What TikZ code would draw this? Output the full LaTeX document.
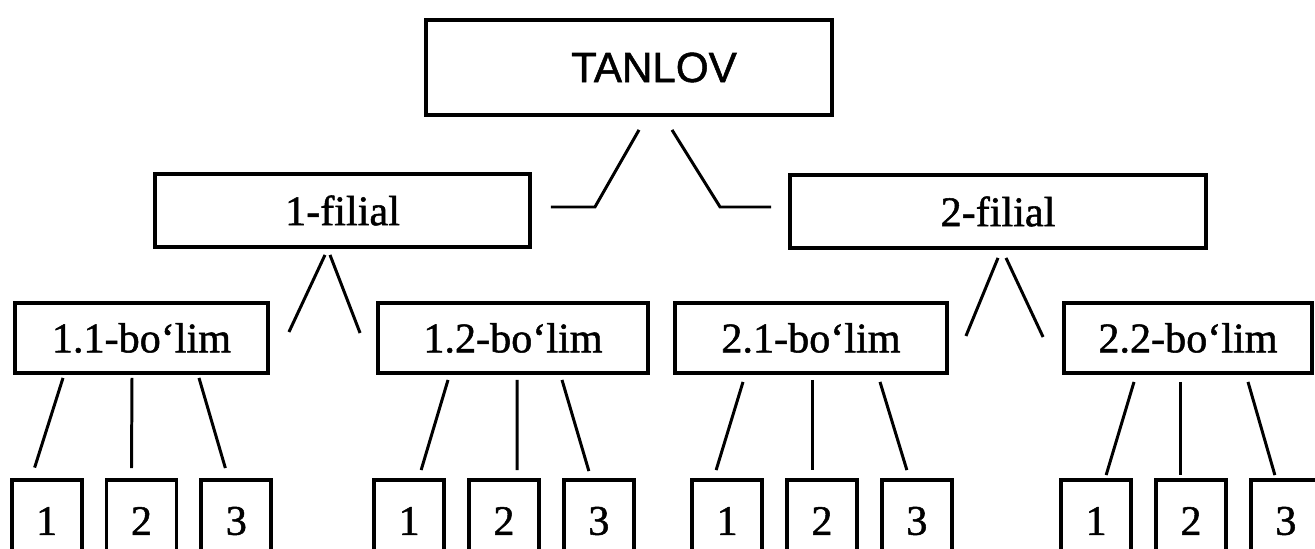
\documentclass[tikz,border=0pt]{standalone}
\usepackage{fontspec}
\setmainfont[FakeBold=1.2]{Liberation Serif}
\newfontfamily\tanlovfont[FakeBold=1.2]{Liberation Sans}
\usetikzlibrary{positioning,calc}

\begin{document}
\begin{tikzpicture}[
    box/.style={draw, line width=2.2pt, inner sep=0pt, font=\fontsize{24}{28}\selectfont},
    raqam/.style={box, minimum width=1.40cm, minimum height=1.64cm},
    link/.style={line width=1.7pt}
]
    \useasboundingbox (0,0) rectangle (26.3,-10.98);
    \clip (0,0) rectangle (26.3,-10.98);

    \node[box, minimum width=8.12cm, minimum height=1.90cm, font=\tanlovfont\fontsize{24}{28}\selectfont] (t) at (12.58,-1.35) {\hspace*{1cm}TANLOV};

    \node[box, minimum width=7.50cm, minimum height=1.46cm] (f1) at ($(t)+(-5.73,-2.86)$) {1-filial};
    \node[box, minimum width=8.32cm, minimum height=1.46cm] (f2) at ($(t)+(7.38,-2.88)$) {2-filial};

    \node[box, minimum width=5.06cm, minimum height=1.40cm] (b11) at ($(f1)+(-4.02,-2.55)$) {1.1-bo‘lim};
    \node[box, minimum width=5.40cm, minimum height=1.40cm] (b12) at ($(f1)+(3.41,-2.55)$) {1.2-bo‘lim};
    \node[box, minimum width=5.44cm, minimum height=1.40cm] (b21) at ($(f2)+(-3.74,-2.53)$) {2.1-bo‘lim};
    \node[box, minimum width=4.96cm, minimum height=1.40cm] (b22) at ($(f2)+(3.80,-2.53)$) {2.2-bo‘lim};

    \node[raqam] (s112) at ($(b11)+(0,-3.66)$) {2};
    \node[raqam, left=0.42cm of s112] (s111) {1};
    \node[raqam, right=0.42cm of s112] (s113) {3};

    \node[raqam] (s122) at ($(b12)+(-0.18,-3.66)$) {2};
    \node[raqam, left=0.42cm of s122] (s121) {1};
    \node[raqam, right=0.42cm of s122] (s123) {3};

    \node[raqam] (s212) at ($(b21)+(0.22,-3.66)$) {2};
    \node[raqam, left=0.42cm of s212] (s211) {1};
    \node[raqam, right=0.42cm of s212] (s213) {3};

    \node[raqam] (s222) at ($(b22)+(0.06,-3.66)$) {2};
    \node[raqam, left=0.42cm of s222] (s221) {1};
    \node[raqam, right=0.42cm of s222] (s223) {3};

    % root to filials
    \draw[link] ($(t.south)+(0.20,-0.26)$) -- ($(f1.east)+(1.26,0.07)$) -- ($(f1.east)+(0.38,0.07)$);
    \draw[link] ($(t.south)+(0.86,-0.26)$) -- ($(f2.west)+(-1.36,0.09)$) -- ($(f2.west)+(-0.34,0.09)$);

    % filials to bo'lims
    \draw[link] ($(f1.south)+(-0.35,-0.12)$) -- ($(b11.east)+(0.38,0.12)$);
    \draw[link] ($(f1.south)+(-0.25,-0.12)$) -- ($(b12.west)+(-0.32,0.10)$);
    \draw[link] ($(f2.south)+(0,-0.16)$) -- ($(b21.east)+(0.34,0.04)$);
    \draw[link] ($(f2.south)+(0.16,-0.16)$) -- ($(b22.west)+(-0.38,0.02)$);

    % bo'lims to numbers
    \draw[link] ($(b11.south)+(-1.57,-0.06)$) -- ($(s111.north)+(-0.24,0.21)$);
    \draw[link] ($(b11.south)+(-0.19,-0.06)$) -- ($(s112.north)+(-0.20,0.20)$);
    \draw[link] ($(b11.south)+(1.15,-0.06)$) -- ($(s113.north)+(-0.22,0.20)$);

    \draw[link] ($(b12.south)+(-1.30,-0.10)$) -- ($(s121.north)+(0.24,0.16)$);
    \draw[link] ($(b12.south)+(0.08,-0.10)$) -- ($(s122.north)+(0.26,0.16)$);
    \draw[link] ($(b12.south)+(0.98,-0.10)$) -- ($(s123.north)+(-0.20,0.14)$);

    \draw[link] ($(b21.south)+(-1.36,-0.14)$) -- ($(s211.north)+(-0.22,0.16)$);
    \draw[link] ($(b21.south)+(0.02,-0.10)$) -- ($(s212.north)+(-0.20,0.16)$);
    \draw[link] ($(b21.south)+(1.38,-0.14)$) -- ($(s213.north)+(-0.20,0.16)$);

    \draw[link] ($(b22.south)+(-1.08,-0.14)$) -- ($(s221.north)+(0.20,0.06)$);
    \draw[link] ($(b22.south)+(-0.16,-0.14)$) -- ($(s222.north)+(-0.22,0.06)$);
    \draw[link] ($(b22.south)+(1.20,-0.14)$) -- ($(s223.north)+(-0.22,0.06)$);
\end{tikzpicture}
\end{document}
